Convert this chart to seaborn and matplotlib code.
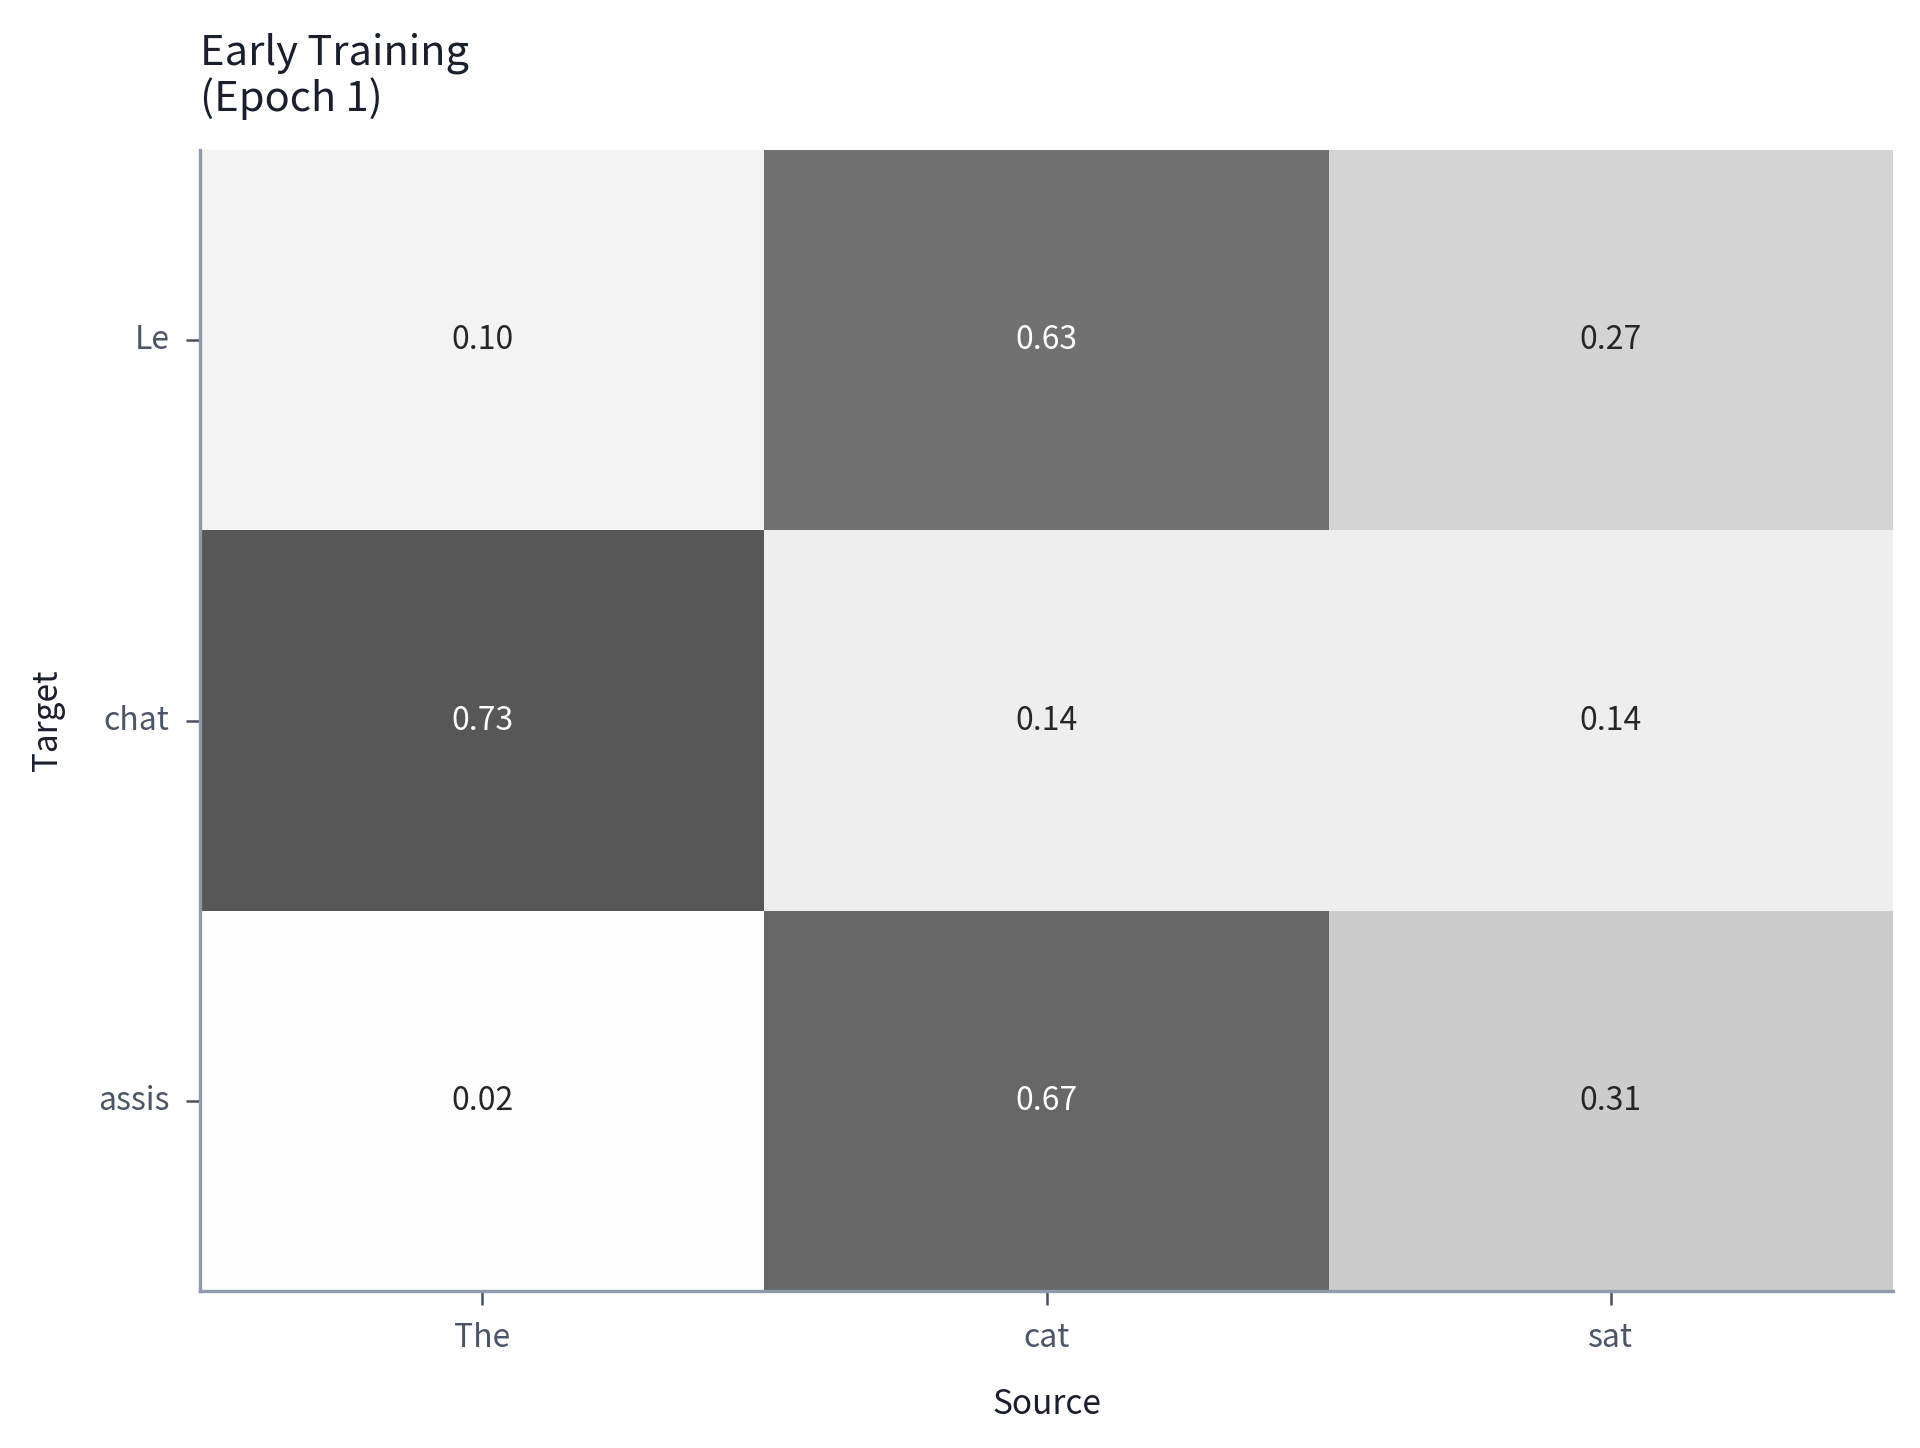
import numpy as np
import pandas as pd
import seaborn as sns
import matplotlib
matplotlib.use("Agg")
import matplotlib.pyplot as plt

sources = ["The", "cat", "sat"]
targets = ["Le", "chat", "assis"]
row_le = [0.10, 0.63, 0.27]
row_chat = [0.73, 0.14, 0.14]
row_assis = [0.02, 0.67, 0.31]

sns.set_theme(style="white")
plt.rcParams['font.family'] = ['Noto Sans CJK KR', 'DejaVu Sans']

df = pd.DataFrame([row_le, row_chat, row_assis], index=targets, columns=sources)

fig = plt.figure(figsize=(9.6, 7.24), dpi=200)
L, R, T, B = 200, 1893, 150, 1291
ax = fig.add_axes([L/1920, 1 - B/1448, (R-L)/1920, (B-T)/1448])
sns.heatmap(df, ax=ax, cmap="Greys", vmin=0, vmax=1, cbar=False,
            annot=True, fmt=".2f", annot_kws={"fontsize": 11.5})

spine_col = "#8e9aae"
for s in ["left", "bottom"]:
    ax.spines[s].set_visible(True)
    ax.spines[s].set_color(spine_col)
    ax.spines[s].set_linewidth(1.2)
for s in ["top", "right"]:
    ax.spines[s].set_visible(False)

ax.tick_params(axis="both", which="both", length=5, width=0.9, color="#4a5060",
               labelcolor="#4a5568", labelsize=11.5, pad=6, left=True, bottom=True)
plt.setp(ax.get_yticklabels(), rotation=0)
plt.setp(ax.get_xticklabels(), rotation=0)
ax.set_xlabel("Source", fontsize=12, color="#1a1f2e", labelpad=12)
ax.set_ylabel("Target", fontsize=12, color="#1a1f2e", labelpad=12)
ax.set_title("Early Training\n(Epoch 1)", loc="left", fontsize=15, color="#1a1f2e",
             pad=14, linespacing=1.1)

fig.savefig("out.png", dpi=200)
